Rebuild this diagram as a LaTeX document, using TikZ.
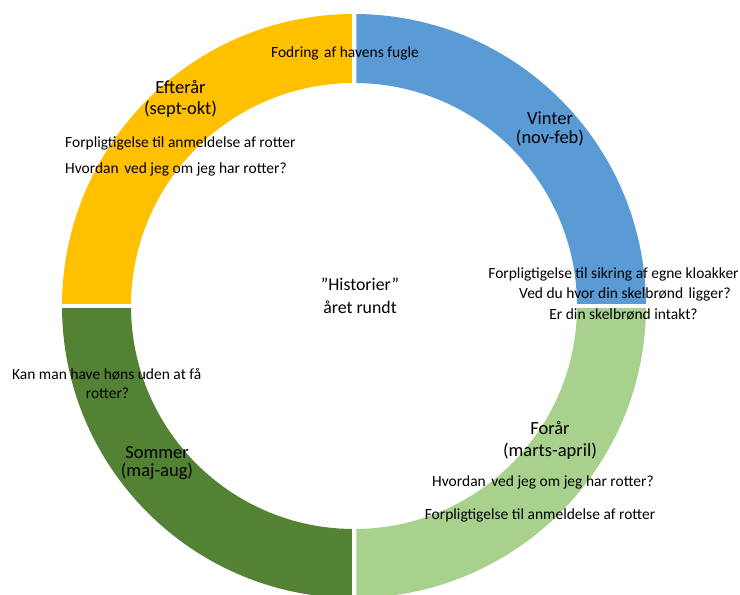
\documentclass[tikz,border=0pt]{standalone}
\usepackage{fontspec}
\setmainfont{Carlito}
\definecolor{cBlue}{HTML}{5B9BD5}
\definecolor{cYellow}{HTML}{FFC000}
\definecolor{cLight}{HTML}{A9D18E}
\definecolor{cDark}{HTML}{548235}
\newcommand{\xsp}{\hspace{2pt}}
\begin{document}
\begin{tikzpicture}[x=1pt,y=1pt,
  small/.style={inner sep=0pt,anchor=base,font=\fontsize{15.5}{18}\selectfont},
  smallw/.style={small,anchor=base west},
  season/.style={inner sep=0pt,anchor=base,font=\fontsize{18.5}{22}\selectfont},
  centre/.style={inner sep=0pt,anchor=base,font=\fontsize{17.8}{22}\selectfont}]
\useasboundingbox (0,0) rectangle (740,595);
\def\cx{354}\def\cy{289}\def\R{292}\def\r{223}\def\g{2.25}
% quadrants
\begin{scope}
\clip (\cx+\g,\cy+\g) rectangle (740,595);
\fill[cBlue,even odd rule] (\cx,\cy) circle[radius=\R] (\cx,\cy) circle[radius=\r];
\end{scope}
\begin{scope}
\clip (\cx-\g,\cy+\g) rectangle (0,595);
\fill[cYellow,even odd rule] (\cx,\cy) circle[radius=\R] (\cx,\cy) circle[radius=\r];
\end{scope}
\begin{scope}
\clip (\cx-\g,\cy-\g) rectangle (0,0);
\fill[cDark,even odd rule] (\cx,\cy) circle[radius=\R] (\cx,\cy) circle[radius=\r];
\end{scope}
\begin{scope}
\clip (\cx+\g,\cy-\g) rectangle (740,0);
\fill[cLight,even odd rule] (\cx,\cy) circle[radius=\R] (\cx,\cy) circle[radius=\r];
\end{scope}
% texts
\node[small] (fodring) at (345,595-57.3) {Fodring\xsp{} af havens fugle};
\node[season] (efter1) at (180.5,595-93.3) {Efterår};
\node[season] (efter2) at (180.5,595-115) {(sept-okt)};
\node[smallw] (tl1) at (65,595-147.3) {Forpligtigelse til anmeldelse af rotter};
\node[smallw] (tl2) at (65,595-173.3) {Hvordan\xsp{} ved jeg om jeg har rotter?};
\node[season] (vin1) at (550,595-125) {Vinter};
\node[season] (vin2) at (550,595-143.5) {(nov-feb)};
\node[centre] (hist1) at (360,595-290.7) {”Historier”};
\node[centre] (hist2) at (360,595-314) {året rundt};
\node[small] (r1) at (613.5,595-278.3) {Forpligtigelse til sikring af egne kloakker};
\node[small] (r2) at (625,595-298.3) {Ved du hvor din skelbrønd\xsp{} ligger?};
\node[small] (r3) at (623.5,595-320) {Er din skelbrønd intakt?};
\node[small] (kan1) at (106.7,595-380) {Kan man have høns uden at få};
\node[small] (kan2) at (107.5,595-398.3) {rotter?};
\node[season] (som1) at (157,595-458.3) {Sommer};
\node[season] (som2) at (157,595-476.7) {(maj-aug)};
\node[season] (for1) at (550,595-435) {Forår};
\node[season] (for2) at (550,595-456.7) {(marts-april)};
\node[small] (br1) at (543,595-486.7) {Hvordan\xsp{} ved jeg om jeg har rotter?};
\node[small] (br2) at (540,595-520) {Forpligtigelse til anmeldelse af rotter};
\end{tikzpicture}
\end{document}
